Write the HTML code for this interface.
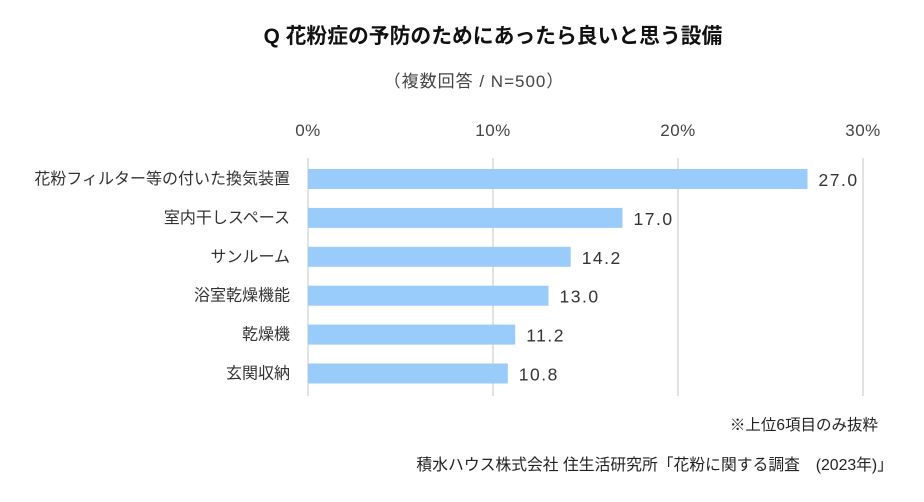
<!DOCTYPE html>
<html><head><meta charset="utf-8"><style>
body{margin:0;background:#fff;}
svg{display:block;font-family:"Liberation Sans","Noto Sans CJK JP",sans-serif;}
</style></head><body>
<svg id="c" width="924" height="502" viewBox="0 0 924 502">
<text x="493" y="43" text-anchor="middle" font-size="20.8" font-weight="bold" fill="#111">Q 花粉症の予防のためにあったら良いと思う設備</text>
<text x="474" y="87" text-anchor="middle" font-size="17" letter-spacing="1" fill="#444">（複数回答 / N=500）</text>
<g id="grid"></g><g id="bars"></g>
<text x="878" y="430" text-anchor="end" font-size="15.5" fill="#222">※上位6項目のみ抜粋</text>
<text x="893" y="470" text-anchor="end" font-size="15.8" fill="#222">積水ハウス株式会社 住生活研究所「花粉に関する調査　(2023年)」</text>
</svg>
<script>
const categories=["花粉フィルター等の付いた換気装置","室内干しスペース","サンルーム","浴室乾燥機能","乾燥機","玄関収納"];
const values=[27.0,17.0,14.2,13.0,11.2,10.8];
const ticks=[0,10,20,30];
const tickLabels=["0%","10%","20%","30%"];
const NS="http://www.w3.org/2000/svg";
const x=v=>308+v*18.5;
const y=i=>179+i*38.9;
function mk(t,a,p){const e=document.createElementNS(NS,t);for(const k in a)e.setAttribute(k,a[k]);p.appendChild(e);return e;}
const g=document.getElementById('grid'),b=document.getElementById('bars');
ticks.forEach((t,i)=>{
 const l=mk('line',{x1:x(t),x2:x(t),y1:158,y2:396,stroke:'#d9d9d9','stroke-width':1.5},g);
 
 
 const tx=mk('text',{x:x(t),y:136,'text-anchor':'middle','font-size':17,'letter-spacing':0.5,fill:'#444'},g);
 tx.textContent=tickLabels[i];
 
 
});
categories.forEach((c,i)=>{
 const r=mk('rect',{x:x(0),y:y(i)-10,width:x(values[i])-x(0),height:20,fill:'#99cbfb'},b);
 
 
 const lt=mk('text',{x:290,y:y(i)+5,'text-anchor':'end','font-size':16,fill:'#333'},b);
 lt.textContent=c;
 
 
 const vt=mk('text',{x:x(values[i])+11,y:y(i)+7,'font-size':17.5,'letter-spacing':1.5,fill:'#333'},b);
 vt.textContent=values[i].toFixed(1);
 
 
});
</script>
</body></html>
